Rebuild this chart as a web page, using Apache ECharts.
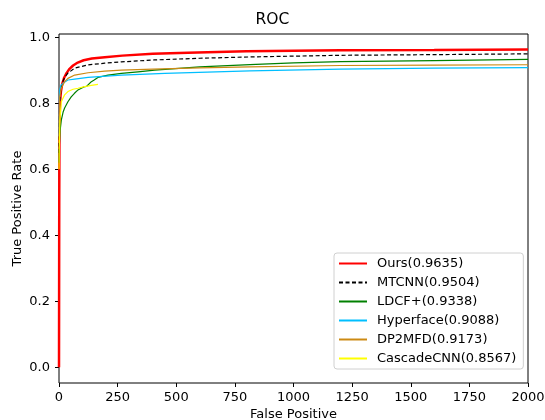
<!DOCTYPE html>
<html>
<head>
<meta charset="utf-8">
<script src="https://cdn.jsdelivr.net/npm/echarts@6/dist/echarts.min.js"></script>
<style>
html,body{margin:0;padding:0;background:#fff;}
#chart{width:545px;height:420px;}
</style>
</head>
<body>
<div id="chart"></div>
<script>
var seriesNames = ['Ours(0.9635)','MTCNN(0.9504)','LDCF+(0.9338)','Hyperface(0.9088)','DP2MFD(0.9173)','CascadeCNN(0.8567)'];
var xTicks = [0,250,500,750,1000,1250,1500,1750,2000];
var yTicks = [0,0.2,0.4,0.6,0.8,1.0];

var oursData = [[0,0],[1,0.5],[2,0.72],[4,0.8],[8,0.835],[14,0.86],[22,0.878],[32,0.892],[45,0.905],[60,0.915],[80,0.924],[105,0.931],[140,0.936],[195,0.940],[270,0.945],[400,0.951],[550,0.954],[800,0.958],[1200,0.961],[1600,0.962],[2000,0.9635]];
var mtcnnData = [[0,0.65],[1,0.74],[3,0.8],[8,0.84],[15,0.865],[25,0.88],[38,0.892],[67,0.907],[124,0.917],[195,0.922],[266,0.926],[408,0.932],[600,0.937],[814,0.941],[1200,0.946],[1600,0.948],[2000,0.9504]];
var ldcfData = [[0,0.62],[2,0.68],[5,0.72],[10,0.75],[18,0.775],[24,0.786],[38,0.805],[45,0.808],[52,0.82],[65,0.83],[72,0.832],[81,0.841],[95,0.846],[109,0.851],[118,0.852],[125,0.856],[138,0.866],[150,0.871],[166,0.879],[209,0.886],[266,0.891],[337,0.896],[408,0.901],[600,0.911],[814,0.918],[1000,0.923],[1200,0.927],[1600,0.930],[2000,0.9338]];
var hyperfaceData = [[0,0.7],[1,0.78],[3,0.84],[8,0.855],[17,0.861],[38,0.871],[67,0.874],[124,0.879],[266,0.886],[451,0.891],[814,0.899],[1200,0.904],[1600,0.907],[2000,0.9088]];
var dp2mfdData = [[0,0.68],[1,0.74],[3,0.82],[10,0.847],[24,0.866],[38,0.876],[67,0.886],[124,0.893],[195,0.898],[266,0.901],[400,0.904],[600,0.908],[814,0.911],[1200,0.915],[1600,0.916],[2000,0.9173]];
var cascadeData = [[0,0.6],[1,0.66],[4,0.75],[10,0.805],[24,0.826],[38,0.836],[60,0.843],[81,0.846],[109,0.851],[138,0.855],[166,0.858]];

var seriesData = [oursData, mtcnnData, ldcfData, hyperfaceData, dp2mfdData, cascadeData];
var colors = ['#ff0000','#000000','#008000','#00bfff','#cc8a14','#ffff00'];
var widths = [2.5,1.2,1.2,1.2,1.2,1.2];
var types = ['solid',[4,2.5],'solid','solid','solid','solid'];

var font = 'DejaVu Sans';
var chart = echarts.init(document.getElementById('chart'), null, {renderer:'canvas'});
var series = seriesNames.map(function(n,i){
  return {
    name:n, type:'line', data:seriesData[i], symbol:'circle', symbolSize:0, showSymbol:false,
    animation:false, silent:true,
    lineStyle:{color:colors[i], width:widths[i], type:types[i]},
    itemStyle:{color:colors[i]}
  };
});
chart.setOption({
  animation:false,
  backgroundColor:'#fff',
  title:{text:'ROC', left:'center', top:7, textStyle:{fontFamily:font, fontSize:15.5, fontWeight:'normal', color:'#000'}},
  grid:{left:59, right:17, top:34, bottom:37, show:true, borderColor:'#000', borderWidth:1, backgroundColor:'transparent', containLabel:false, outerBoundsMode:'none'},
  legend:{
    orient:'vertical', left:334, top:253,
    data:seriesNames,
    itemWidth:28, itemHeight:14, itemGap:6,
    padding:[4,7,4,4],
    backgroundColor:'#fff', borderColor:'#d0d0d0', borderWidth:1, borderRadius:3,
    itemStyle:{color:'transparent', borderColor:'transparent', borderWidth:0, opacity:0},
    textStyle:{fontFamily:font, fontSize:13, color:'#000', padding:[0,0,0,5]},
    selectedMode:false
  },
  xAxis:{
    type:'value', min:0, max:2000, interval:250,
    name:'False Positive', nameLocation:'middle', nameGap:25, nameMoveOverlap:false,
    nameTextStyle:{fontFamily:font, fontSize:13, color:'#000'},
    axisLine:{show:false, onZero:false},
    axisTick:{show:true, length:4, inside:false, lineStyle:{color:'#000'}, customValues:xTicks},
    axisLabel:{fontFamily:font, fontSize:13, color:'#000', margin:8, customValues:xTicks, formatter:function(v){return String(v);}},
    splitLine:{show:false}
  },
  yAxis:{
    type:'value', min:-0.048, max:1.0106,
    name:'True Positive Rate', nameLocation:'middle', nameGap:35, nameRotate:90, nameMoveOverlap:false,
    nameTextStyle:{fontFamily:font, fontSize:13, color:'#000'},
    axisLine:{show:false, onZero:false},
    axisTick:{show:true, length:4, inside:false, lineStyle:{color:'#000'}, customValues:yTicks},
    axisLabel:{fontFamily:font, fontSize:13, color:'#000', margin:9, customValues:yTicks, formatter:function(v){return v.toFixed(1);}},
    splitLine:{show:false}
  },
  series:series
});
</script>
</body>
</html>
